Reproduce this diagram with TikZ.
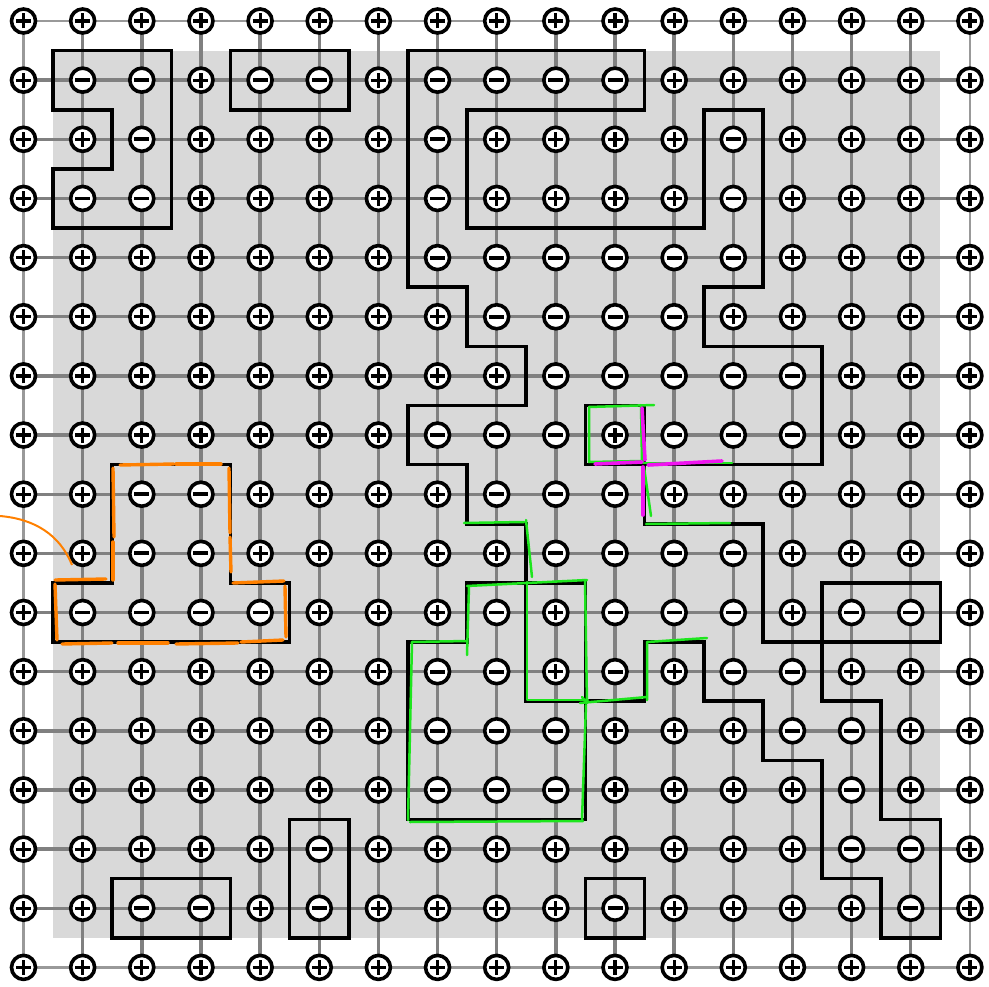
\documentclass[tikz,border=0pt]{standalone}
\usetikzlibrary{backgrounds}
\definecolor{bgfill}{HTML}{D9D9D9}
\definecolor{bondgray}{HTML}{808080}
\definecolor{hgreen}{RGB}{30,230,30}
\definecolor{hmag}{RGB}{240,20,240}
\definecolor{horange}{RGB}{255,128,0}
\newcommand\siterow[2]{\foreach \s [count=\c from 0] in {#2} {\node[site\s] (n-\c-#1) at (\c,#1) {};}}
\begin{document}
\begin{tikzpicture}[x=59.15pt,y=-59.15pt,
  site/.style={circle,draw=black,line width=3.6pt,fill=white,minimum size=24pt,inner sep=0pt},
  sitep/.style={site,path picture={
     \draw[line width=3.2pt,black] ([xshift=-7.5pt]path picture bounding box.center) -- ([xshift=7.5pt]path picture bounding box.center);
     \draw[line width=3.2pt,black] ([yshift=-7.5pt]path picture bounding box.center) -- ([yshift=7.5pt]path picture bounding box.center);}},
  sitem/.style={site,path picture={
     \draw[line width=3.9pt,black] ([xshift=-7.5pt]path picture bounding box.center) -- ([xshift=7.5pt]path picture bounding box.center);}},
  bond/.style={draw=bondgray,line width=3.4pt},
  rimbond/.style={draw=bondgray!80,line width=2.2pt},
  cluster/.style={draw=black,line width=3.6pt,line join=miter},
  greenstroke/.style={draw=hgreen,line width=2.5pt,line cap=round,line join=round},
  magstroke/.style={draw=hmag,line width=3.6pt,line cap=round},
  orangestroke/.style={draw=horange,line width=3.4pt,line cap=round},
]
\useasboundingbox (-0.3973,-0.355) rectangle (16.323,16.331);

% sites
\siterow{0}{p,p,p,p,p,p,p,p,p,p,p,p,p,p,p,p,p}
\siterow{1}{p,m,m,p,m,m,p,m,m,m,m,p,p,p,p,p,p}
\siterow{2}{p,p,m,p,p,p,p,m,p,p,p,p,m,p,p,p,p}
\siterow{3}{p,m,m,p,p,p,p,m,p,p,p,p,m,p,p,p,p}
\siterow{4}{p,p,p,p,p,p,p,m,m,m,m,m,m,p,p,p,p}
\siterow{5}{p,p,p,p,p,p,p,p,m,m,m,m,p,p,p,p,p}
\siterow{6}{p,p,p,p,p,p,p,p,p,m,m,m,m,m,p,p,p}
\siterow{7}{p,p,p,p,p,p,p,m,m,m,p,m,m,m,p,p,p}
\siterow{8}{p,p,m,m,p,p,p,p,m,m,m,p,p,p,p,p,p}
\siterow{9}{p,p,m,m,p,p,p,p,p,m,m,m,m,p,p,p,p}
\siterow{10}{p,m,m,m,m,p,p,p,m,p,m,m,m,p,m,m,p}
\siterow{11}{p,p,p,p,p,p,p,m,m,p,m,p,m,m,p,p,p}
\siterow{12}{p,p,p,p,p,p,p,m,m,m,p,p,p,m,m,p,p}
\siterow{13}{p,p,p,p,p,p,p,m,m,m,p,p,p,p,m,p,p}
\siterow{14}{p,p,p,p,p,m,p,p,p,p,p,p,p,p,m,m,p}
\siterow{15}{p,p,m,m,p,m,p,p,p,p,m,p,p,p,p,m,p}
\siterow{16}{p,p,p,p,p,p,p,p,p,p,p,p,p,p,p,p,p}

% background and bonds
\begin{pgfonlayer}{background}
  \fill[bgfill] (0.5,0.5) rectangle (15.5,15.5);
  \foreach \r in {1,...,15} {
    \foreach \c [evaluate=\c as \d using int(\c+1)] in {0,...,15} {
      \draw[bond] (n-\c-\r.center) -- (n-\d-\r.center);
    }
  }
  \foreach \c in {1,...,15} {
    \foreach \r [evaluate=\r as \q using int(\r+1)] in {0,...,15} {
      \draw[bond] (n-\c-\r.center) -- (n-\c-\q.center);
    }
  }
  \foreach \r in {0,16} {
    \foreach \c [evaluate=\c as \d using int(\c+1)] in {0,...,15} {
      \draw[rimbond] (n-\c-\r.center) -- (n-\d-\r.center);
    }
  }
  \foreach \c in {0,16} {
    \foreach \r [evaluate=\r as \q using int(\r+1)] in {0,...,15} {
      \draw[rimbond] (n-\c-\r.center) -- (n-\c-\q.center);
    }
  }
\end{pgfonlayer}

% cluster outlines
\draw[cluster] (0.5,0.5) -- (2.5,0.5) -- (2.5,3.5) -- (0.5,3.5) -- (0.5,2.5) -- (1.5,2.5) -- (1.5,1.5) -- (0.5,1.5) -- cycle;
\draw[cluster] (3.5,0.5) rectangle (5.5,1.5);
\draw[cluster] (6.5,0.5) -- (10.5,0.5) -- (10.5,1.5) -- (7.5,1.5) -- (7.5,3.5) -- (11.5,3.5) -- (11.5,1.5) -- (12.5,1.5) -- (12.5,4.5) -- (11.5,4.5) -- (11.5,5.5) -- (13.5,5.5) -- (13.5,7.5) -- (10.5,7.5) -- (10.5,8.5) -- (12.5,8.5) -- (12.5,10.5) -- (13.5,10.5) -- (13.5,11.5) -- (14.5,11.5) -- (14.5,13.5) -- (15.5,13.5) -- (15.5,15.5) -- (14.5,15.5) -- (14.5,14.5) -- (13.5,14.5) -- (13.5,12.5) -- (12.5,12.5) -- (12.5,11.5) -- (11.5,11.5) -- (11.5,10.5) -- (10.5,10.5) -- (10.5,11.5) -- (9.5,11.5) -- (9.5,9.5) -- (8.5,9.5) -- (8.5,8.5) -- (7.5,8.5) -- (7.5,7.5) -- (6.5,7.5) -- (6.5,6.5) -- (8.5,6.5) -- (8.5,5.5) -- (7.5,5.5) -- (7.5,4.5) -- (6.5,4.5) -- cycle;
\draw[cluster] (9.5,6.5) rectangle (10.5,7.5);
\draw[cluster] (7.5,9.5) -- (8.5,9.5) -- (8.5,11.5) -- (9.5,11.5) -- (9.5,13.5) -- (6.5,13.5) -- (6.5,10.5) -- (7.5,10.5) -- cycle;
\draw[cluster] (1.5,7.5) -- (3.5,7.5) -- (3.5,9.5) -- (4.5,9.5) -- (4.5,10.5) -- (0.5,10.5) -- (0.5,9.5) -- (1.5,9.5) -- cycle;
\draw[cluster] (13.5,9.5) rectangle (15.5,10.5);
\draw[cluster] (4.5,13.5) rectangle (5.5,15.5);
\draw[cluster] (1.5,14.5) rectangle (3.5,15.5);
\draw[cluster] (9.5,14.5) rectangle (10.5,15.5);

% hand-drawn strokes (pixel coordinates)
\begin{scope}[x=1pt,y=-1pt,shift={(-23.5pt,21pt)}]
  % orange
  \draw[draw=horange,line width=2pt] (0,516) .. controls (35,519) and (60,535) .. (72,565);
  \draw[orangestroke] (120,465) -- (174,464);
  \draw[orangestroke] (176,464) -- (221,464);
  \draw[orangestroke] (113,468) -- (114,537);
  \draw[orangestroke] (113,542) -- (113,580);
  \draw[orangestroke] (229,468) -- (230,533);
  \draw[orangestroke] (230,537) -- (231,572);
  \draw[orangestroke] (55,580) -- (106,579);
  \draw[orangestroke] (233,583) -- (284,581);
  \draw[orangestroke] (55,584) -- (57,640);
  \draw[orangestroke] (285,586) -- (286,637);
  \draw[orangestroke] (62,644) -- (112,643);
  \draw[orangestroke] (118,643) -- (168,643);
  \draw[orangestroke] (176,644) -- (238,643);
  \draw[orangestroke] (241,642) -- (283,640);
  % green
  \draw[greenstroke] (589,407) -- (654,405);
  \draw[greenstroke] (589,407) -- (589,462) -- (643,461);
  \draw[greenstroke] (641,405) -- (642,461);
  \draw[greenstroke] (643,463) -- (732,463);
  \draw[greenstroke] (644,467) -- (651,516);
  \draw[greenstroke] (646,524) -- (730,523);
  \draw[greenstroke] (464,523) -- (524,522);
  \draw[greenstroke] (526,520) -- (532,577);
  \draw[greenstroke] (467,586) -- (527,583) -- (587,580);
  \draw[greenstroke] (469,586) -- (467,655);
  \draw[greenstroke] (412,642) -- (467,641);
  \draw[greenstroke] (412,642) -- (408,820);
  \draw[greenstroke] (410,822) -- (583,821);
  \draw[greenstroke] (585,580) -- (587,703) -- (582,697);
  \draw[greenstroke] (586,705) -- (582,820);
  \draw[greenstroke] (527,582) -- (527,700) -- (588,700);
  \draw[greenstroke] (580,703) -- (647,697);
  \draw[greenstroke] (647,700) -- (647,642) -- (707,638);
  % magenta
  \draw[magstroke] (642,408) -- (645,460);
  \draw[magstroke] (643,467) -- (643,515);
  \draw[magstroke] (595,464) -- (642,462);
  \draw[magstroke] (648,465) -- (722,461);
\end{scope}
\end{tikzpicture}
\end{document}
